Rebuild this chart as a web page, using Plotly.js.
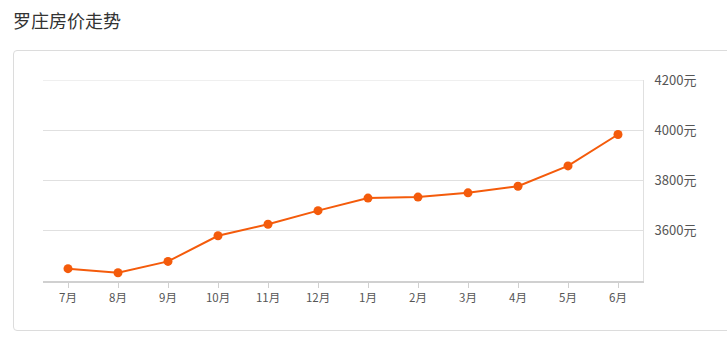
<!DOCTYPE html>
<html>
<head>
<meta charset="utf-8">
<script src="https://cdn.plot.ly/plotly-3.0.1.min.js"></script>
<style>
html,body{margin:0;padding:0;background:#fff;}
#wrap{position:relative;width:727px;height:346px;overflow:hidden;}
#card{position:absolute;left:13px;top:50px;width:730px;height:281px;border:1px solid #dcdcdc;border-radius:4px;box-sizing:border-box;}
#chart{position:absolute;left:0;top:0;width:727px;height:346px;}
</style>
</head>
<body>
<div id="wrap"><div id="card"></div><div id="chart"></div></div>
<script>
const titleText = '罗庄房价走势';
const months = ['7月','8月','9月','10月','11月','12月','1月','2月','3月','4月','5月','6月'];
const prices = [3449, 3433, 3478, 3580, 3626, 3680, 3730, 3734, 3751, 3777, 3858, 3983];
const yTickVals = [3600, 3800, 4000, 4200];
const yTickText = ['3600元','3800元','4000元','4200元'];
const yMax = 4200;

const trace = {
  type: 'scatter', mode: 'lines+markers',
  x: months, y: prices,
  line: {color: '#f45b0b', width: 2},
  marker: {color: '#f45b0b', size: 9},
  hoverinfo: 'x+y'
};
const layout = {
  width: 727, height: 346,
  margin: {l: 43, r: 84, t: 80, b: 65},
  paper_bgcolor: 'rgba(0,0,0,0)', plot_bgcolor: 'rgba(0,0,0,0)',
  showlegend: false,
  font: {family: '"Noto Sans CJK SC", "Noto Sans", sans-serif', color: '#555', size: 12},
  title: {text: titleText, x: 13/727, xanchor: 'left', xref: 'container', yref: 'container', y: 1 - 22/346, yanchor: 'middle',
          font: {size: 18, color: '#333', family: '"Noto Sans CJK SC", sans-serif'}},
  xaxis: {type: 'category', range: [-0.5, 11.5], showgrid: false, zeroline: false,
          showline: true, linecolor: '#d0d0d0', linewidth: 2,
          ticks: 'outside', ticklen: 5, tickcolor: '#d0d0d0', tickwidth: 1,
          tickfont: {size: 11.5, color: '#555'}, fixedrange: true},
  yaxis: {range: [3400, yMax], side: 'right', tickvals: yTickVals, ticktext: yTickText,
          showgrid: true, gridcolor: '#e0e0e0', gridwidth: 1, zeroline: false,
          showline: true, linecolor: '#e0e0e0', linewidth: 1, mirror: false,
          ticks: '', ticklabelstandoff: 8,
          tickfont: {size: 13, color: '#555'}, fixedrange: true},
  shapes: [{type: 'line', xref: 'paper', yref: 'y', x0: 0, x1: 1, y0: yMax, y1: yMax,
            line: {color: '#e0e0e0', width: 1}, layer: 'below'}]
};
Plotly.newPlot('chart', [trace], layout, {displayModeBar: false, staticPlot: true});
</script>
</body>
</html>
